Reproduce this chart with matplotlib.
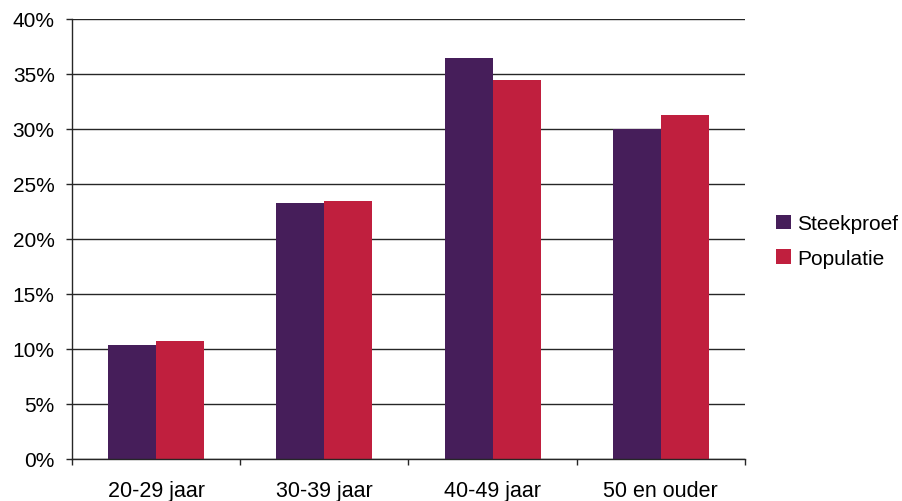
import matplotlib.pyplot as plt
import numpy as np
from matplotlib.ticker import FuncFormatter

# leeftijdsverdeling steekproef vs populatie
categories = ['20-29 jaar', '30-39 jaar', '40-49 jaar', '50 en ouder']
steekproef = [10.4, 23.3, 36.5, 30.0]
populatie = [10.7, 23.45, 34.5, 31.3]

plt.rcParams['font.family'] = ['Liberation Sans', 'DejaVu Sans']

fig = plt.figure(figsize=(9.03, 5.02), dpi=100)
ax = fig.add_axes([72 / 903, 1 - 460 / 502, (745 - 72) / 903, 440 / 502])

x = np.arange(len(categories)) + 0.5
w = 0.285
ax.bar(x - w / 2, steekproef, w, color='#461E5A', label='Steekproef', zorder=2)
ax.bar(x + w / 2, populatie, w, color='#C01F3E', label='Populatie', zorder=2)

ax.set_xlim(0, len(categories))
ax.set_ylim(0, 40)
ax.set_yticks(np.arange(0, 41, 5))
ax.yaxis.set_major_formatter(FuncFormatter(lambda v, p: '%d%%' % v))
ax.grid(axis='y', color='#262626', linewidth=1, zorder=1)
ax.set_axisbelow(True)

ax.set_xticks(np.arange(0, len(categories) + 1))
ax.set_xticklabels([])
ax.set_xticks(x, minor=True)
ax.set_xticklabels(categories, minor=True)
ax.tick_params(axis='x', which='minor', length=0, pad=15, labelsize=15.5)
ax.tick_params(axis='x', which='major', length=4.5, width=1, color='#262626')
ax.tick_params(axis='y', length=4.5, width=1, color='#262626', labelsize=15, pad=8)

for s in ['top', 'right']:
    ax.spines[s].set_visible(False)
for s in ['left', 'bottom']:
    ax.spines[s].set_color('#262626')
    ax.spines[s].set_linewidth(1)

fig.legend(loc='center left', bbox_to_anchor=(768 / 903, 1 - 242 / 502),
           frameon=False, fontsize=15, handlelength=0.7, handleheight=0.7,
           handletextpad=0.3, labelspacing=0.75, borderaxespad=0)

fig.savefig('out.png', dpi=100)
